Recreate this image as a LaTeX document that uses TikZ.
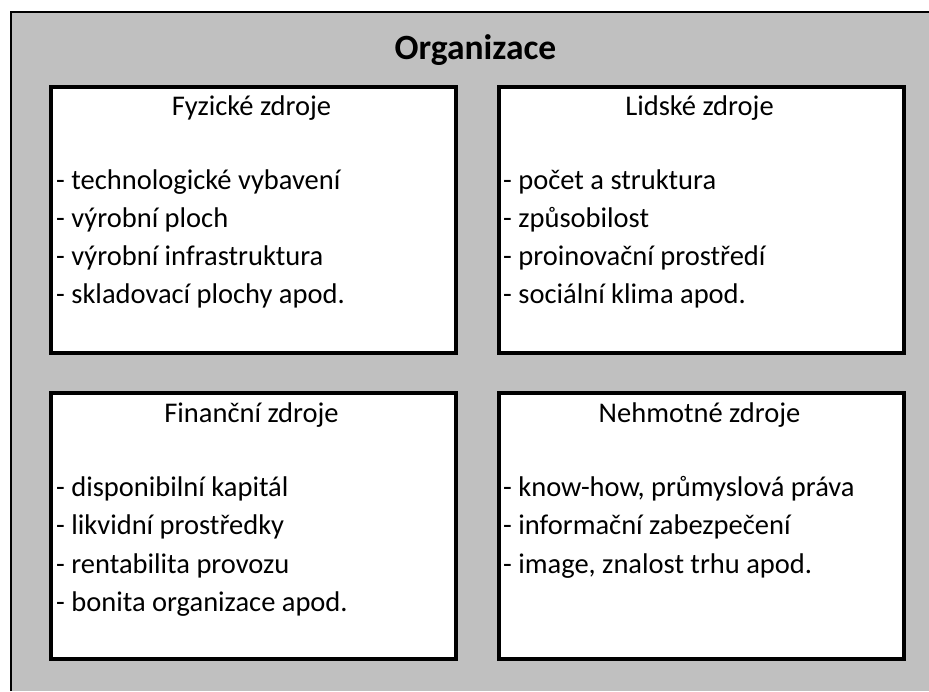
\documentclass[tikz,border=0pt]{standalone}
\usepackage{fontspec}
\setmainfont{Carlito}
\definecolor{bggray}{RGB}{192,192,192}
\begin{document}
\begin{tikzpicture}[x=1pt,y=-1pt,
  resbox/.style={draw=black,line width=4pt,fill=white,minimum width=405pt,minimum height=266pt,anchor=north west,inner sep=0pt},
  head/.style={anchor=base,inner sep=0pt,font=\fontsize{28.5}{34}\selectfont},
  item/.style={anchor=base west,inner sep=0pt,font=\fontsize{28.5}{34}\selectfont},
  title/.style={anchor=base,inner sep=0pt,font=\fontsize{35.5}{42}\selectfont\bfseries}]
\useasboundingbox (0,0) rectangle (929,691);
\fill[white] (0,0) rectangle (929,691);
\fill[bggray] (11,12) rectangle (929,691);
\draw[line width=2pt] (11,691) -- (11,12) -- (929,12);
\node[title] (org) at (475.5,59) {Organizace};
% boxes
\node[resbox] (fyz) at (49,85) {};
\node[resbox] (lid) at (497,85) {};
\node[resbox] (fin) at (49,391) {};
\node[resbox] (neh) at (497,391) {};
% Fyzické
\node[head] (fyzh) at (251.5,115) {Fyzické zdroje};
\node[item] (fyz1) at (56,189) {- technologické vybavení};
\node[item] (fyz2) at (56,227) {- výrobní ploch};
\node[item] (fyz3) at (56,265) {- výrobní infrastruktura};
\node[item] (fyz4) at (56,303) {- skladovací plochy apod.};
% Lidské
\node[head] (lidh) at (699.5,115) {Lidské zdroje};
\node[item] (lid1) at (503,189) {- počet a struktura};
\node[item] (lid2) at (503,227) {- způsobilost};
\node[item] (lid3) at (503,265) {- proinovační prostředí};
\node[item] (lid4) at (503,303) {- sociální klima apod.};
% Finanční
\node[head] (finh) at (251.5,422) {Finanční zdroje};
\node[item] (fin1) at (56,496) {- disponibilní kapitál};
\node[item] (fin2) at (56,534) {- likvidní prostředky};
\node[item] (fin3) at (56,573) {- rentabilita provozu};
\node[item] (fin4) at (56,611) {- bonita organizace apod.};
% Nehmotné
\node[head] (nehh) at (699.5,422) {Nehmotné zdroje};
\node[item] (neh1) at (503,496) {- know-how, průmyslová práva};
\node[item] (neh2) at (503,534) {- informační zabezpečení};
\node[item] (neh3) at (503,573) {- image, znalost trhu apod.};
\end{tikzpicture}
\end{document}
